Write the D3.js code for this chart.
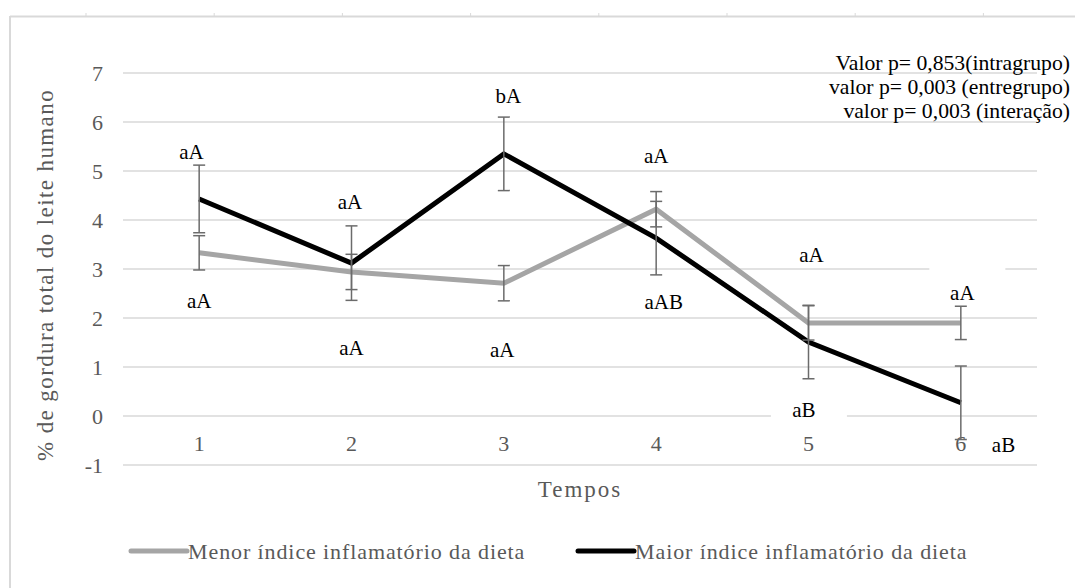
<!DOCTYPE html>
<html>
<head>
<meta charset="utf-8">
<script src="https://cdn.jsdelivr.net/npm/d3@7"></script>
<style>
  body { margin: 0; background: #fff; }
</style>
</head>
<body>
<div id="chart"></div>
<script>
// Dados
const tempos = ["1", "2", "3", "4", "5", "6"];
const menorIndice = [3.33, 2.94, 2.71, 4.22, 1.90, 1.90];
const maiorIndice = [4.43, 3.12, 5.35, 3.63, 1.51, 0.27];
const erroMenor = [0.35, 0.36, 0.36, 0.36, 0.35, 0.34];
const erroMaior = [0.69, 0.76, 0.75, 0.75, 0.75, 0.75];
const yTicks = [-1, 0, 1, 2, 3, 4, 5, 6, 7];

// Letras de significância: tempo, deslocamento (em tempos), valor no eixo y
const letras = [
    { t: "1", dx: -0.05, v: 5.39, txt: "aA" },
    { t: "1", dx: 0.00, v: 2.35, txt: "aA" },
    { t: "2", dx: -0.01, v: 4.37, txt: "aA" },
    { t: "2", dx: 0.00, v: 1.39, txt: "aA" },
    { t: "3", dx: 0.03, v: 6.53, txt: "bA" },
    { t: "3", dx: -0.01, v: 1.35, txt: "aA" },
    { t: "4", dx: 0.00, v: 5.31, txt: "aA" },
    { t: "4", dx: 0.05, v: 2.33, txt: "aAB" },
    { t: "5", dx: 0.02, v: 3.29, txt: "aA" },
    { t: "5", dx: -0.03, v: 0.12, txt: "aB", caixa: true },
    { t: "6", dx: 0.01, v: 2.51, txt: "aA", caixa: true },
    { t: "6", dx: 0.28, v: -0.59, txt: "aB" }
];

const pValores = [
    "Valor p= 0,853(intragrupo)",
    "valor p= 0,003 (entregrupo)",
    "valor p= 0,003 (interação)"
];

const series = [
    { nome: "Menor índice inflamatório da dieta", valores: menorIndice, erros: erroMenor, cor: "#a5a5a5" },
    { nome: "Maior índice inflamatório da dieta", valores: maiorIndice, erros: erroMaior, cor: "#000000" }
];

const fonte = "'Liberation Serif'";
const width = 1075, height = 588;
const plot = { left: 123, right: 1037, top: 73, bottom: 465 };

const svg = d3.select("body")
    .append("svg")
    .attr("width", width)
    .attr("height", height);

// Moldura (borda superior e esquerda, com as marquinhas)
svg.append("line")
    .attr("x1", 10).attr("x2", width)
    .attr("y1", 16.5).attr("y2", 16.5)
    .attr("stroke", "#d9d9d9").attr("stroke-width", 2);
svg.append("line")
    .attr("x1", 10).attr("x2", 10)
    .attr("y1", 16).attr("y2", height)
    .attr("stroke", "#d9d9d9").attr("stroke-width", 2);
svg.selectAll(".marca")
    .data(d3.range(8))
    .enter()
    .append("line")
    .attr("class", "marca")
    .attr("x1", i => 86 + i * 128.2).attr("x2", i => 86 + i * 128.2)
    .attr("y1", 13).attr("y2", 16)
    .attr("stroke", "#d9d9d9");

// Escalas
const x = d3.scaleBand()
    .domain(tempos)
    .range([plot.left, plot.right])
    .padding(0);
const cx = t => x(t) + x.bandwidth() / 2;

const y = d3.scaleLinear()
    .domain([-1, 7])
    .range([plot.bottom, plot.top]);

// Linhas de grade
svg.append("g")
    .selectAll("line")
    .data(yTicks)
    .enter()
    .append("line")
    .attr("x1", plot.left).attr("x2", plot.right)
    .attr("y1", d => y(d)).attr("y2", d => y(d))
    .attr("stroke", "#d9d9d9")
    .attr("stroke-width", 1.3);

// Eixo Y
const eixoY = svg.append("g")
    .attr("transform", `translate(${plot.left},0)`)
    .call(d3.axisLeft(y).tickValues(yTicks).tickSize(0).tickPadding(20).tickFormat(d => String(d)));
eixoY.attr("font-family", null);
eixoY.select(".domain").remove();
eixoY.selectAll("text")
    .style("font-size", "22px")
    .attr("fill", "#595959");

// Eixo X
const eixoX = svg.append("g")
    .attr("transform", "translate(0,435)")
    .call(d3.axisBottom(x).tickSize(0).tickPadding(0));
eixoX.attr("font-family", null);
eixoX.select(".domain").remove();
eixoX.selectAll("text")
    .style("font-size", "22px")
    .attr("fill", "#595959");

// Títulos dos eixos
svg.append("text")
    .attr("x", (plot.left + plot.right) / 2)
    .attr("y", 489)
    .attr("dy", "0.35em")
    .attr("text-anchor", "middle")
    .attr("fill", "#595959")
    .style("font-size", "23px")
    .style("letter-spacing", "2px")
    .text("Tempos");

svg.append("text")
    .attr("transform", "translate(45,275) rotate(-90)")
    .attr("dy", "0.35em")
    .attr("text-anchor", "middle")
    .attr("fill", "#595959")
    .style("font-size", "23px")
    .style("letter-spacing", "1.4px")
    .text("% de gordura total do leite humano");

// Linhas das séries
const linha = d3.line()
    .x((d, i) => cx(tempos[i]))
    .y(d => y(d));

series.forEach(s => {
    svg.append("path")
        .datum(s.valores)
        .attr("d", linha)
        .attr("fill", "none")
        .attr("stroke", s.cor)
        .attr("stroke-width", 5)
        .attr("stroke-linejoin", "miter");
});

// Barras de erro
series.forEach(s => {
    const g = svg.append("g");
    s.valores.forEach((v, i) => {
        const xc = cx(tempos[i]);
        const e = s.erros[i];
        g.append("line")
            .attr("x1", xc).attr("x2", xc)
            .attr("y1", y(v + e)).attr("y2", y(v - e))
            .attr("stroke", "#6b6b6b").attr("stroke-width", 1.5);
        [v + e, v - e].forEach(c => {
            g.append("line")
                .attr("x1", xc - 6).attr("x2", xc + 6)
                .attr("y1", y(c)).attr("y2", y(c))
                .attr("stroke", "#6b6b6b").attr("stroke-width", 1.5);
        });
    });
});

// Letras de significância
const gLetras = svg.append("g");
letras.forEach(d => {
    const lx = cx(d.t) + d.dx * x.bandwidth();
    const ly = y(d.v);
    if (d.caixa) {
        // caixa de texto branca que cobre a linha de grade
        gLetras.append("rect")
            .attr("x", lx - 33).attr("y", ly - 30)
            .attr("width", 76).attr("height", 40)
            .attr("fill", "#fff");
    }
    gLetras.append("text")
        .attr("x", lx)
        .attr("y", ly)
        .attr("dy", "0.35em")
        .attr("text-anchor", "middle")
        .attr("fill", "#000")
        .style("font-size", "21px")
        .text(d.txt);
});

// Valores p
svg.append("g")
    .selectAll("text")
    .data(pValores)
    .enter()
    .append("text")
    .attr("x", 1070)
    .attr("y", (d, i) => 62 + i * 24)
    .attr("dy", "0.35em")
    .attr("text-anchor", "end")
    .attr("fill", "#000")
    .style("font-size", "21.7px")
    .text(d => d);

// Legenda
const legendaX = [131, 578];
const legenda = svg.append("g")
    .selectAll("g")
    .data(series)
    .enter()
    .append("g")
    .attr("transform", (d, i) => `translate(${legendaX[i]},551)`);
legenda.append("line")
    .attr("x1", 0).attr("x2", 56)
    .attr("stroke", d => d.cor)
    .attr("stroke-width", 5)
    .attr("stroke-linecap", "round");
legenda.append("text")
    .attr("x", 57)
    .attr("dy", "0.35em")
    .attr("fill", "#595959")
    .style("font-size", "22px")
    .style("letter-spacing", "0.9px")
    .text(d => d.nome);

// Fonte serifada em todos os textos
svg.selectAll("text")
    .attr("font-family", "Liberation Serif")
    .style("font-family", fonte);
</script>
</body>
</html>
